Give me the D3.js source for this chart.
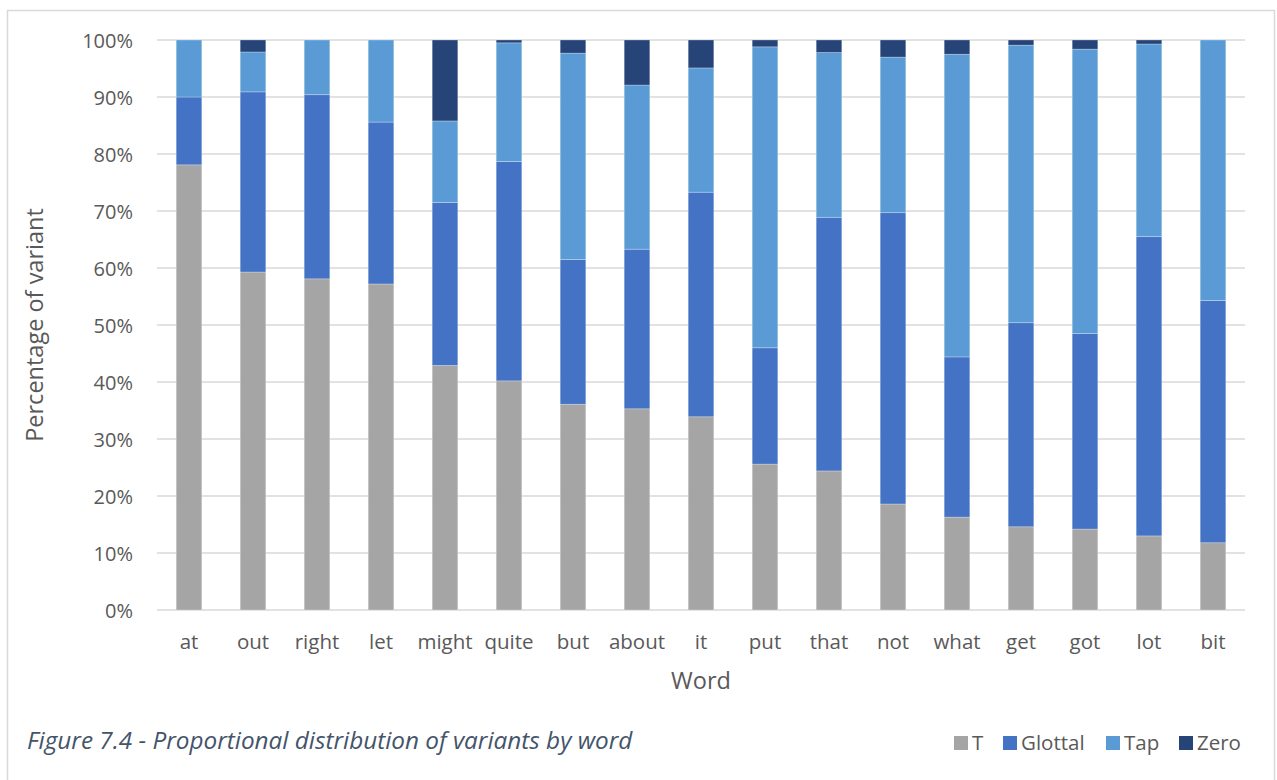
<!DOCTYPE html>
<html>
<head>
<meta charset="utf-8">
<script src="https://cdn.jsdelivr.net/npm/d3@7"></script>
<style>
  html, body { margin: 0; padding: 0; background: #fff; }
  svg { display: block; }
  text { font-family: "Open Sans", Lato, sans-serif; }
</style>
</head>
<body>
<svg id="chart" width="1277" height="780"></svg>
<script>
const words = ["at","out","right","let","might","quite","but","about","it","put","that","not","what","get","got","lot","bit"];
const seriesNames = ["T","Glottal","Tap","Zero"];
const tValues       = [78.1, 59.3, 58.1, 57.2, 42.9, 40.2, 36.1, 35.3, 33.9, 25.6, 24.4, 18.6, 16.3, 14.6, 14.2, 13.0, 11.8];
const glottalValues = [11.9, 31.6, 32.3, 28.4, 28.6, 38.5, 25.4, 28.0, 39.4, 20.4, 44.5, 51.1, 28.1, 35.8, 34.3, 52.5, 42.5];
const tapValues     = [10.0,  7.0,  9.6, 14.4, 14.3, 20.8, 36.2, 28.8, 21.8, 52.8, 28.9, 27.3, 53.1, 48.7, 49.9, 33.8, 45.7];
const zeroValues    = [ 0.0,  2.1,  0.0,  0.0, 14.2,  0.5,  2.3,  7.9,  4.9,  1.2,  2.2,  3.0,  2.5,  0.9,  1.6,  0.7,  0.0];
const yTicks = [0,10,20,30,40,50,60,70,80,90,100];
const colors = ["#a5a5a5","#4472c4","#5b9bd5","#264478"];

const svg = d3.select("#chart");
const FONT = "'Open Sans', Lato, sans-serif";

// outer frame
svg.append("rect").attr("x", 7.5).attr("y", 10.5).attr("width", 1267).attr("height", 780)
  .attr("fill", "#fff").attr("stroke", "#d9d9d9").attr("stroke-width", 1.5);

const pLeft = 157, pRight = 1245, pTop = 40, pBottom = 610;

const table = words.map((w, i) => ({
  word: w, T: tValues[i], Glottal: glottalValues[i], Tap: tapValues[i], Zero: zeroValues[i]
}));
const stacked = d3.stack().keys(seriesNames)(table);

const x = d3.scaleBand().domain(words).range([pLeft, pRight]).paddingInner(0.6).paddingOuter(0.3);
const y = d3.scaleLinear().domain([0, 100]).range([pBottom, pTop]);

// gridlines
svg.append("g").selectAll("line").data(yTicks).join("line")
  .attr("x1", pLeft).attr("x2", pRight)
  .attr("y1", d => y(d)).attr("y2", d => y(d))
  .attr("stroke", "#d9d9d9").attr("stroke-width", 1.3);

// y axis labels
const yAxis = d3.axisLeft(y).tickValues(yTicks).tickFormat(d => d + "%").tickSize(0).tickPadding(0);
const gy = svg.append("g").attr("transform", `translate(${pLeft - 24},0)`).call(yAxis);
gy.select(".domain").remove();
gy.selectAll("text").attr("fill", "#595959").attr("font-size", 20).attr("dy", "0.36em")
  .style("font-family", FONT);

// bars
const gBars = svg.append("g");
stacked.forEach((s, si) => {
  gBars.append("g").attr("fill", colors[si]).selectAll("rect").data(s).join("rect")
    .attr("x", d => x(d.data.word))
    .attr("width", x.bandwidth())
    .attr("y", d => y(d[1]))
    .attr("height", d => Math.max(0, y(d[0]) - y(d[1])))
    .attr("stroke", "#ffffff").attr("stroke-opacity", 0.35).attr("stroke-width", 0.75);
});

// x axis labels
const xAxis = d3.axisBottom(x).tickSize(0).tickPadding(0);
const gx = svg.append("g").attr("transform", `translate(0,${pBottom})`).call(xAxis);
gx.select(".domain").remove();
gx.selectAll("text").attr("fill", "#595959").attr("font-size", 20.5).attr("y", 38.5).attr("dy", 0)
  .style("font-family", FONT);

// axis titles
svg.append("text").attr("x", (pLeft + pRight) / 2).attr("y", 689)
  .attr("text-anchor", "middle").attr("fill", "#595959").attr("font-size", 23.5)
  .text("Word");
svg.append("text").attr("transform", `translate(43,${(pTop + pBottom) / 2}) rotate(-90)`)
  .attr("text-anchor", "middle").attr("fill", "#595959").attr("font-size", 23.5)
  .text("Percentage of variant");

// caption
svg.append("text").attr("x", 27).attr("y", 749)
  .attr("fill", "#44546a").attr("font-size", 24.3).attr("font-style", "italic")
  .text("Figure 7.4 - Proportional distribution of variants by word");

// legend
const legendX = [954, 1003, 1106, 1179];
const lg = svg.append("g");
seriesNames.forEach((n, i) => {
  lg.append("rect").attr("x", legendX[i]).attr("y", 736).attr("width", 14).attr("height", 14).attr("fill", colors[i]);
  lg.append("text").attr("x", legendX[i] + 18).attr("y", 750)
    .attr("fill", "#595959").attr("font-size", 20.5).text(n);
});
</script>
</body>
</html>
